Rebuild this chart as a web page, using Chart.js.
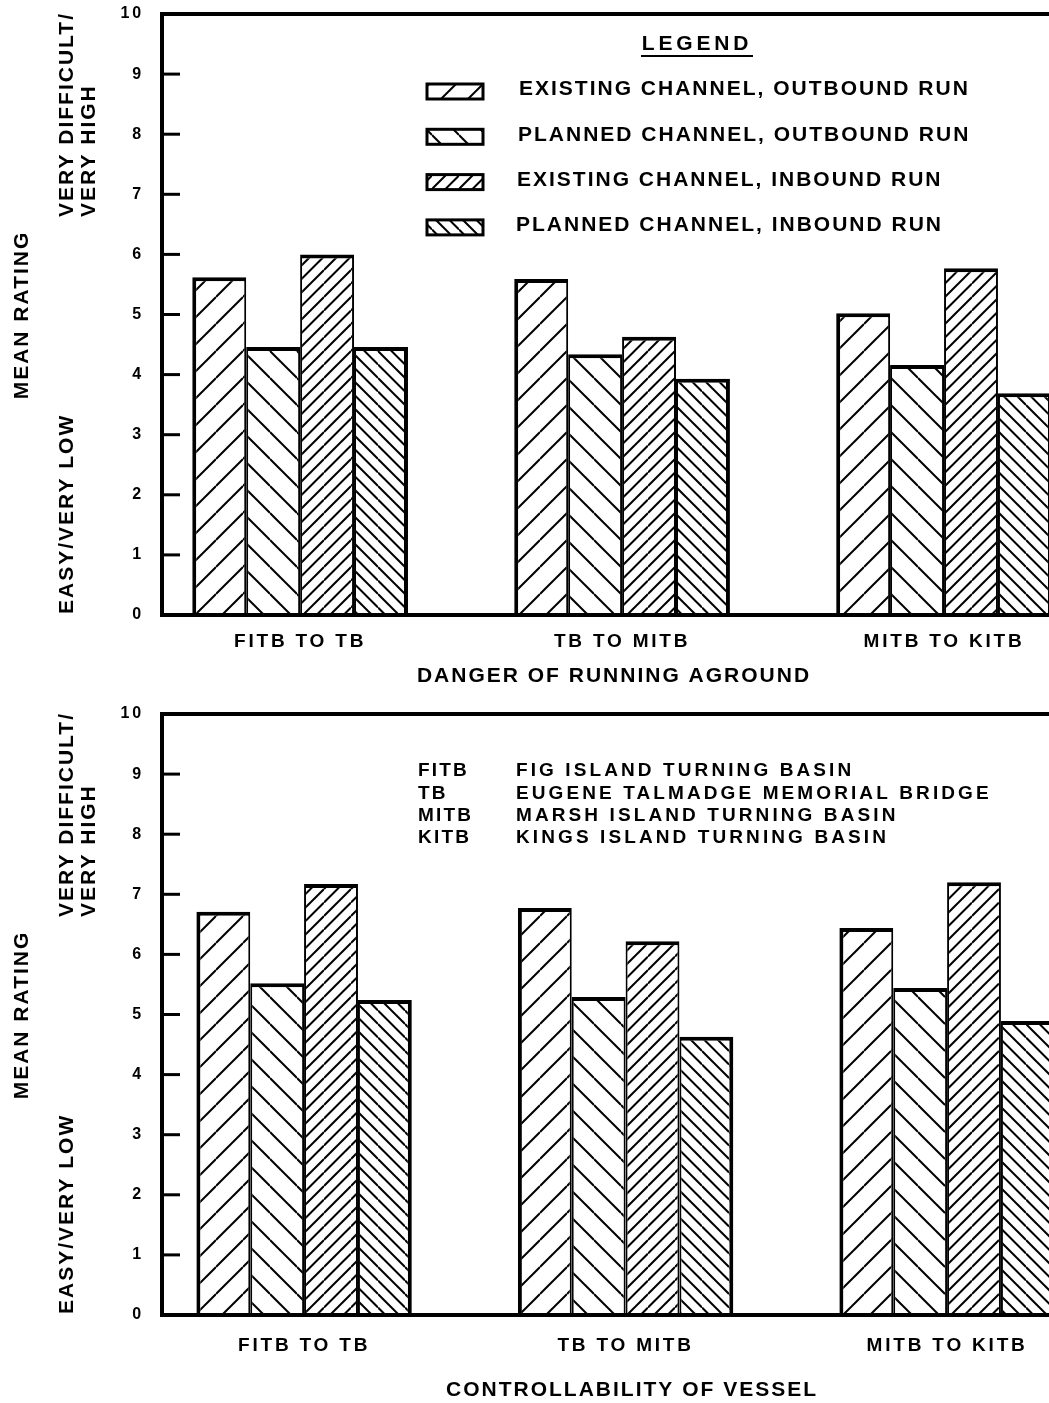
<!DOCTYPE html>
<html>
<head>
<meta charset="utf-8">
<script src="https://cdn.jsdelivr.net/npm/chart.js@4.4.1/dist/chart.umd.min.js"></script>
<style>
html, body { margin: 0; padding: 0; background: #fff; overflow: hidden; }
#aground { position: absolute; left: 0; top: 0; }
#control { position: absolute; left: 0; top: 700px; }
</style>
</head>
<body>
<canvas id="aground" width="1049" height="700"></canvas>
<canvas id="control" width="1049" height="703"></canvas>
<script>
// river reaches on the x axis
const reaches = ['FITB TO TB', 'TB TO MITB', 'MITB TO KITB'];
const seriesNames = [
  'EXISTING CHANNEL, OUTBOUND RUN',
  'PLANNED CHANNEL, OUTBOUND RUN',
  'EXISTING CHANNEL, INBOUND RUN',
  'PLANNED CHANNEL, INBOUND RUN'
];
const yTicks = [0, 1, 2, 3, 4, 5, 6, 7, 8, 9, 10];

// danger of running aground (mean rating)
const agroundExistOut = [5.62, 5.59, 5.02];
const agroundPlanOut = [4.46, 4.34, 4.16];
const agroundExistIn = [6.00, 4.63, 5.77];
const agroundPlanIn = [4.46, 3.93, 3.69];

// controllability of vessel (mean rating)
const controlExistOut = [6.71, 6.77, 6.44];
const controlPlanOut = [5.52, 5.29, 5.44];
const controlExistIn = [7.17, 6.22, 7.20];
const controlPlanIn = [5.24, 4.63, 4.89];

// abbreviations
const abbrevs = ['FITB', 'TB', 'MITB', 'KITB'];
const abbrevNames = [
  'FIG ISLAND TURNING BASIN',
  'EUGENE TALMADGE MEMORIAL BRIDGE',
  'MARSH ISLAND TURNING BASIN',
  'KINGS ISLAND TURNING BASIN'
];

const FONT = '"Liberation Sans", Arial, Helvetica, sans-serif';

// hatch fill, '/' or '\', 1 or 2 lines per tile
function hatch(dir, lines) {
  const s = 27;
  const c = document.createElement('canvas');
  c.width = s; c.height = s;
  const g = c.getContext('2d');
  g.fillStyle = '#fff';
  g.fillRect(0, 0, s, s);
  g.strokeStyle = '#000';
  g.lineWidth = 2;
  for (let k = 0; k < lines; k++) {
    const off = k * s / lines;
    for (let m = -1; m <= 2; m++) {
      const cc = off + m * s;
      g.beginPath();
      if (dir === '/') { g.moveTo(0, cc); g.lineTo(s, cc - s); }
      else { g.moveTo(0, cc - s); g.lineTo(s, cc); }
      g.stroke();
    }
  }
  return g.createPattern(c, 'repeat');
}

const patterns = [hatch('/', 1), hatch('\\', 1), hatch('/', 2), hatch('\\', 2)];
const borders = [
  { top: 4, left: 4, right: 2, bottom: 0 },
  { top: 4, left: 2, right: 2, bottom: 0 },
  { top: 4, left: 2, right: 2, bottom: 0 },
  { top: 4, left: 2, right: 4, bottom: 0 }
];

function drawText(ctx, text, x, y, size, spacing, align) {
  ctx.font = 'bold ' + size + 'px ' + FONT;
  ctx.letterSpacing = spacing + 'px';
  ctx.textAlign = align || 'left';
  ctx.textBaseline = 'middle';
  ctx.fillStyle = '#000';
  ctx.fillText(text, x, y);
}

function vText(ctx, text, x, y, size, spacing, align) {
  ctx.save();
  ctx.translate(x, y);
  ctx.rotate(-Math.PI / 2);
  drawText(ctx, text, 0, 0, size, spacing, align);
  ctx.restore();
}

// frame, inward ticks, side and bottom titles
const frame = {
  id: 'frame',
  beforeDraw(chart) {
    chart.ctx.letterSpacing = '2.8px';
  },
  afterDraw(chart, args, o) {
    const { ctx, chartArea: a, scales: { y } } = chart;
    ctx.save();
    ctx.strokeStyle = '#000';
    ctx.lineWidth = 4;
    ctx.beginPath();
    ctx.moveTo(a.left - 2, a.top);
    ctx.lineTo(a.right, a.top);
    ctx.stroke();
    ctx.lineWidth = 3;
    y.ticks.forEach(t => {
      const py = y.getPixelForValue(t.value);
      ctx.beginPath();
      ctx.moveTo(a.left, py);
      ctx.lineTo(a.left + 18, py);
      ctx.stroke();
    });
    vText(ctx, 'MEAN RATING', 22, 315, 21, 2, 'center');
    vText(ctx, 'VERY DIFFICULT/', 67, 217, 21, 2, 'left');
    vText(ctx, 'VERY HIGH', 89, 217, 21, 2, 'left');
    vText(ctx, 'EASY/VERY LOW', 67, 614, 21, 2, 'left');
    drawText(ctx, o.title, o.titleX, o.titleY, 21, 2, 'center');
    ctx.restore();
  }
};

const legendBox = {
  id: 'legendBox',
  afterDraw(chart) {
    const ctx = chart.ctx;
    ctx.save();
    drawText(ctx, 'LEGEND', 697, 44, 21, 3.8, 'center');
    ctx.fillRect(641, 55, 112, 2);
    chart.data.datasets.forEach((ds, i) => {
      const ym = 91 + i * 45.3;
      ctx.fillStyle = ds.backgroundColor;
      ctx.fillRect(427, ym - 7, 56, 15);
      ctx.strokeStyle = '#000';
      ctx.lineWidth = 3;
      ctx.strokeRect(427, ym - 7, 56, 15);
      drawText(ctx, ds.label, 519 - i, ym - 1.5, 21, 2);
    });
    ctx.restore();
  }
};

const abbrevBox = {
  id: 'abbrevBox',
  afterDraw(chart) {
    const ctx = chart.ctx;
    ctx.save();
    abbrevs.forEach((ab, i) => {
      const ym = 71 + i * 22.3;
      drawText(ctx, ab, 418, ym, 19, 2.2);
      drawText(ctx, abbrevNames[i], 516, ym, 19, 3.1);
    });
    ctx.restore();
  }
};

function makeChart(id, series, o, extra) {
  const datasets = series.map((vals, i) => ({
    label: seriesNames[i],
    data: vals.map((v, k) => ({ x: k + 1, y: v })),
    backgroundColor: patterns[i],
    borderColor: '#000',
    borderWidth: borders[i],
    borderSkipped: 'bottom',
    categoryPercentage: 0.67,
    barPercentage: 1
  }));
  return new Chart(document.getElementById(id), {
    type: 'bar',
    data: { datasets: datasets },
    plugins: [frame, extra],
    options: {
      responsive: false,
      animation: false,
      events: [],
      layout: { padding: { top: 14, left: 0, right: 0, bottom: 0 } },
      plugins: {
        legend: { display: false },
        tooltip: { enabled: false },
        frame: { title: o.title, titleX: o.titleX, titleY: o.titleY }
      },
      scales: {
        x: {
          type: 'linear',
          offset: false,
          min: o.xMin,
          max: o.xMax,
          afterBuildTicks: s => { s.ticks = reaches.map((r, i) => ({ value: i + 1 })); },
          afterFit: s => { s.height = o.xHeight; s.paddingLeft = 0; s.paddingRight = 0; },
          grid: { display: false, drawTicks: false, offset: false },
          border: { display: true, color: '#000', width: 4, z: 1 },
          ticks: {
            callback: (v, i) => reaches[i],
            color: '#000',
            font: { family: FONT, size: 19, weight: 'bold' },
            padding: o.tickPad,
            maxRotation: 0,
            autoSkip: false
          }
        },
        y: {
          min: 0,
          max: 10,
          afterBuildTicks: s => { s.ticks = yTicks.map(v => ({ value: v })); },
          afterFit: s => { s.width = 162; s.paddingTop = 0; s.paddingBottom = 0; },
          grid: { display: false, drawTicks: false },
          border: { display: true, color: '#000', width: 4, z: 1 },
          ticks: {
            color: '#000',
            font: { family: FONT, size: 16, weight: 'bold' },
            padding: 18
          }
        }
      }
    }
  });
}

makeChart('aground',
  [agroundExistOut, agroundPlanOut, agroundExistIn, agroundPlanIn],
  { xMin: 0.571, xMax: 3.326, xHeight: 85, tickPad: 15,
    title: 'DANGER OF RUNNING AGROUND', titleX: 614, titleY: 676 },
  legendBox);

makeChart('control',
  [controlExistOut, controlPlanOut, controlExistIn, controlPlanIn],
  { xMin: 0.558, xMax: 3.317, xHeight: 88, tickPad: 19,
    title: 'CONTROLLABILITY OF VESSEL', titleX: 632, titleY: 690 },
  abbrevBox);
</script>
</body>
</html>
